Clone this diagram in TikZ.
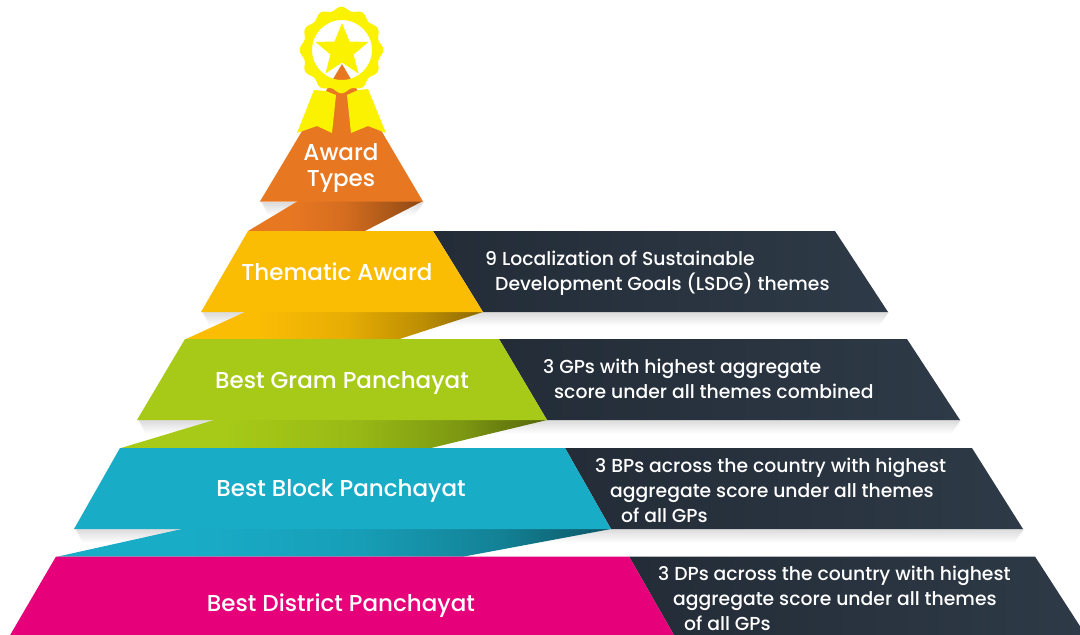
\documentclass[tikz,border=0pt]{standalone}
\usepackage{fontspec}
\setmainfont{Poppins Medium}
\definecolor{orng}{HTML}{E87722}
\definecolor{amber}{HTML}{FBBC04}
\definecolor{leaf}{HTML}{A6CA17}
\definecolor{teal}{HTML}{19ACC7}
\definecolor{pink}{HTML}{E6007A}
\definecolor{ink}{HTML}{232C37}
\definecolor{inkb}{HTML}{2E3A47}
\definecolor{gold}{HTML}{FAF200}
\newcommand{\foldshade}[3]{%
  \colorlet{#1a}{#2!92!black}\colorlet{#1b}{#2!75!black}\colorlet{#1c}{#2!#3!black}%
  \pgfdeclarehorizontalshading{#1}{100bp}{color(0bp)=(#2); color(25bp)=(#2); color(37bp)=(#2); color(52bp)=(#1a); color(65bp)=(#1b); color(75bp)=(#1c); color(100bp)=(#1c)}}
\foldshade{foldorng}{orng}{60}
\foldshade{foldamber}{amber}{55}
\foldshade{foldleaf}{leaf}{50}
\foldshade{foldteal}{teal}{50}
\newcommand{\softshadow}[3]{%
  \foreach \i in {1,...,7}{
    \fill[black,opacity=0.018] (#1+\i*0.4,#3) -- (#2+\i*0.2,#3) -- (#2-\i*1.2,#3+\i*1.9) -- (#1+\i*1.2,#3+\i*1.9) -- cycle;
  }}
\tikzset{
  title/.style={text=white,font=\fontsize{23}{28}\selectfont,inner sep=0pt,align=center},
  note/.style={text=white,font=\fontsize{18.8}{25}\selectfont,inner sep=0pt,align=left,anchor=west},
  bar/.style={left color=ink,right color=inkb}
}
\begin{document}
\begin{tikzpicture}[x=1pt,y=-1pt]
\useasboundingbox (0,0) rectangle (1080,635);
\clip (0,0) rectangle (1080,635);
% soft shadows
\softshadow{201}{888}{312}
\softshadow{137}{960}{420}
\softshadow{74}{1023}{529}
\softshadow{260}{423}{202}
% folds
\shade[shading=foldorng] (298,201) -- (423,201) -- (365,231) -- (248,231) -- cycle;
\shade[shading=foldamber] (245,312) -- (483,312) -- (398,339.5) -- (185,339.5) -- cycle;
\shade[shading=foldleaf] (214,420) -- (547,420) -- (431,448) -- (121,448) -- cycle;
\shade[shading=foldteal] (182,529) -- (611,529) -- (464,556.5) -- (58,556.5) -- cycle;
% dark bars
\shade[bar] (433,231) -- (835,231) -- (888,312) -- (483,312) -- cycle;
\shade[bar] (499,339) -- (907,339) -- (960,420) -- (547,420) -- cycle;
\shade[bar] (565,448) -- (972,448) -- (1023,529) -- (611,529) -- cycle;
\shade[bar] (629,556.5) -- (1035,556.5) -- (1087,637) -- (675,637) -- cycle;
% tiers
\fill[orng] (342,64) -- (423,201.5) -- (260,201.5) -- cycle;
\fill[amber] (248,231) -- (433,231) -- (483,312) -- (201,312) -- cycle;
\fill[leaf] (185,339) -- (499,339) -- (547,420) -- (137,420) -- cycle;
\fill[teal] (120,448) -- (565,448) -- (611,529) -- (74,529) -- cycle;
\fill[pink] (56,556.5) -- (629,556.5) -- (675,637) -- (9,637) -- cycle;
% ribbons
\fill[gold] (314,90) -- (326,91) -- (336,95) -- (332,133) -- (317,126) -- (297,133) -- cycle;
\fill[gold] (347,95) -- (358,90) -- (368,89) -- (386,133) -- (368,126) -- (351,133) -- cycle;
% rosette
\fill[gold,even odd rule] plot[domain=0:360,samples=240,smooth] ({341.5+(40+1.8*cos(12*\x))*cos(\x)},{50+(41.5+1.8*cos(12*\x))*sin(\x)}) -- cycle (342,50) circle (30);
\fill[gold] (342,23) -- (349.5,41.5) -- (368.5,42) -- (353.6,54.5) -- (358.5,73.5) -- (342,62.5) -- (325.5,73.5) -- (330.4,54.5) -- (315.5,42) -- (334.5,41.5) -- cycle;
% labels
\node[title] (award) at (341,167.5) {Award\\[-2pt]Types};
\node[title] (thematic) at (337,272) {Thematic Award};
\node[title] (gram) at (342,383) {Best Gram Panchayat};
\node[title] (block) at (341,491) {Best Block Panchayat};
\node[title] (district) at (341,606) {Best District Panchayat};
\node[note] (n1) at (485,273.5) {9 Localization of Sustainable\\\hspace*{10pt}Development Goals (LSDG) themes};
\node[note] (n2) at (543,379) {3 GPs with highest aggregate\\\hspace*{11pt}score under all themes combined};
\node[note] (n3) at (595,490) {3 BPs across the country with highest\\\hspace*{15pt}aggregate score under all themes\\\hspace*{26pt}of all GPs};
\node[note] (n4) at (658,598) {3 DPs across the country with highest\\\hspace*{15pt}aggregate score under all themes\\\hspace*{26pt}of all GPs};
\end{tikzpicture}
\end{document}
